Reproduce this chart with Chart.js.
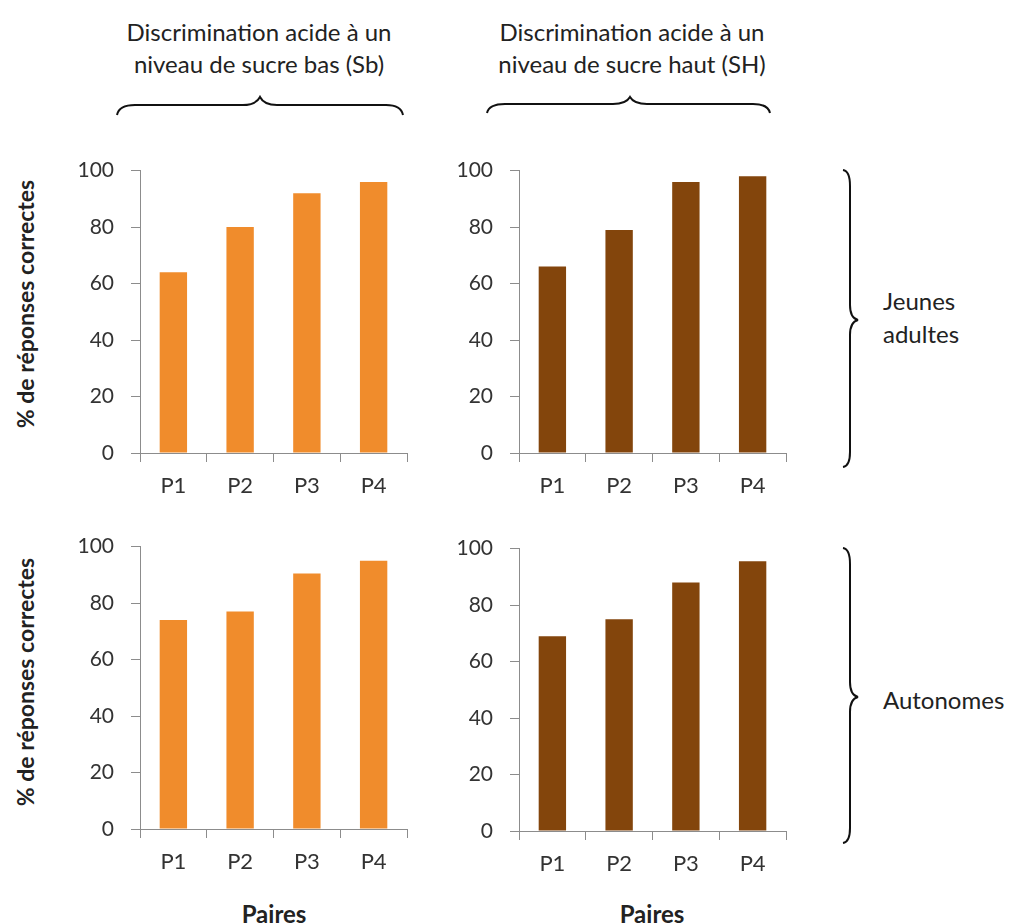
<!DOCTYPE html>
<html>
<head>
<meta charset="utf-8">
<script src="https://cdn.jsdelivr.net/npm/chart.js@4.4.1/dist/chart.umd.min.js"></script>
<style>
  body { margin: 0; background: #fff; }
  #page { position: relative; width: 1012px; height: 924px; font-family: Lato, sans-serif; color: #222; overflow: hidden; }
  .box { position: absolute; }
  .txt { position: absolute; font-size: 24px; line-height: 32px; white-space: nowrap; }
  .ctr { text-align: center; transform: translateX(-50%); }
  .ytitle { position: absolute; font-weight: bold; font-size: 23px; white-space: nowrap;
            transform: translate(-50%, -50%) rotate(-90deg); }
  .xtitle { position: absolute; font-weight: bold; font-size: 24px; transform: translate(-50%, -50%); }
  svg { position: absolute; left: 0; top: 0; }
</style>
</head>
<body>
<div id="page">
  <div class="txt ctr" style="left:259px; top:16px;">Discrimination acide à un<br>niveau de sucre bas (Sb)</div>
  <div class="txt ctr" style="left:632px; top:16px;">Discrimination acide à un<br>niveau de sucre haut (SH)</div>
  <div class="txt" style="left:883px; top:284px; line-height:33px;">Jeunes<br>adultes</div>
  <div class="txt" style="left:883px; top:684px;">Autonomes</div>
  <div class="ytitle" style="left:25px; top:304px;">% de réponses correctes</div>
  <div class="ytitle" style="left:25px; top:682px;">% de réponses correctes</div>
  <div class="xtitle" style="left:274px; top:913px;">Paires</div>
  <div class="xtitle" style="left:652px; top:913px;">Paires</div>

  <svg width="1012" height="924">
    <g fill="none" stroke="#111" stroke-width="2">
      <path d="M117,115 Q119,105 135,105 L243,105 Q256,105 260,97 Q264,105 277,105 L386,105 Q401,105 403,115"/>
      <path d="M487,113 Q489,104 505,104 L613,104 Q626,104 630,97 Q634,104 647,104 L753,104 Q768,104 770,113"/>
      <path d="M843,170 Q850,171 850,186 L850,305 Q850,318 858,320 Q850,322 850,335 L850,452 Q850,466 843,467"/>
      <path d="M843,548 Q850,549 850,564 L850,682 Q850,695 858,697 Q850,699 850,712 L850,828 Q850,842 843,843"/>
    </g>
  </svg>

  <div class="box" style="left:0px; top:141px;"><canvas id="c1" width="420" height="369"></canvas></div>
  <div class="box" style="left:379px; top:141px;"><canvas id="c2" width="420" height="369"></canvas></div>
  <div class="box" style="left:0px; top:517px;"><canvas id="c3" width="420" height="369"></canvas></div>
  <div class="box" style="left:379px; top:519px;"><canvas id="c4" width="420" height="369"></canvas></div>
</div>

<script>
const pairs = ['P1', 'P2', 'P3', 'P4'];
const yTicks = [0, 20, 40, 60, 80, 100];

// % de réponses correctes
const jeunesSb = [64, 80, 92, 96];
const jeunesSH = [66, 79, 96, 98];
const autonomesSb = [74, 77, 90.5, 95];
const autonomesSH = [69, 75, 88, 95.5];

const orange = '#f08c2c';
const brown = '#83450c';
const axisColor = '#8c8c8c';
const tickColor = '#333333';

function makeChart(id, values, color) {
  const ctx = document.getElementById(id);
  return new Chart(ctx, {
    type: 'bar',
    data: {
      labels: pairs,
      datasets: [{
        data: values,
        backgroundColor: color,
        barPercentage: 0.41,
        categoryPercentage: 1
      }]
    },
    options: {
      responsive: false,
      animation: false,
      layout: { padding: { top: 12, right: 13, left: 0, bottom: 0 } },
      plugins: { legend: { display: false }, tooltip: { enabled: false } },
      scales: {
        x: {
          grid: { offset: true, drawOnChartArea: false, drawTicks: true, tickLength: 9, color: axisColor },
          border: { display: true, color: axisColor },
          ticks: { color: tickColor, font: { family: 'Lato', size: 22 }, padding: 11 },
          afterFit: scale => { scale.height = 57; }
        },
        y: {
          min: 0,
          max: 100,
          afterBuildTicks: scale => { scale.ticks = yTicks.map(v => ({ value: v })); },
          grid: { drawOnChartArea: false, drawTicks: true, tickLength: 9, color: axisColor },
          border: { display: true, color: axisColor },
          ticks: { color: tickColor, font: { family: 'Lato', size: 21 }, padding: 17 },
          afterFit: scale => { scale.width = 140; }
        }
      }
    }
  });
}

makeChart('c1', jeunesSb, orange);
makeChart('c2', jeunesSH, brown);
makeChart('c3', autonomesSb, orange);
makeChart('c4', autonomesSH, brown);
</script>
</body>
</html>
